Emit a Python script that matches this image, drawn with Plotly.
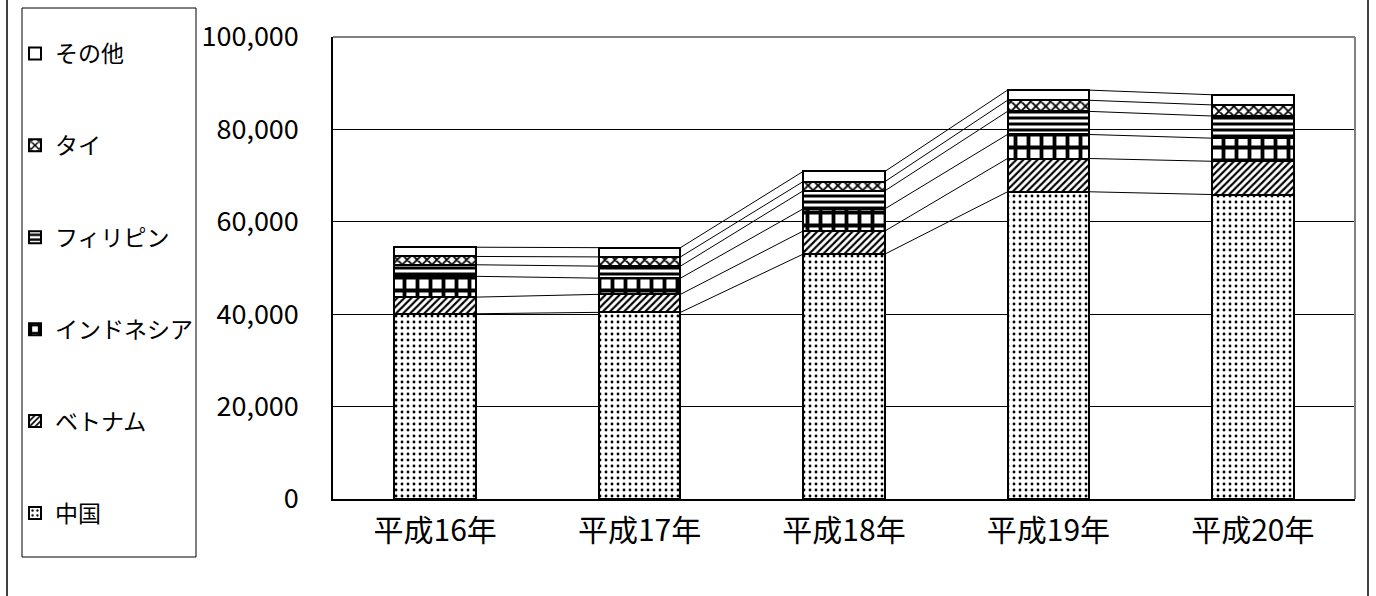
import plotly.graph_objects as go
import numpy as np

# 年度
years = ["平成16年", "平成17年", "平成18年", "平成19年", "平成20年"]

# 国籍別の人数（下から積み上げ）
china = [40100, 40400, 53000, 66500, 65900]
vietnam = [3600, 3900, 5000, 7200, 7200]
indonesia = [4500, 3500, 4800, 5200, 5000]
philippines = [2500, 2600, 3900, 5000, 4800]
thailand = [1800, 2000, 2000, 2400, 2400]
others = [2000, 2000, 2200, 2200, 2200]

series_names = ["中国", "ベトナム", "インドネシア", "フィリピン", "タイ", "その他"]
series_values = [china, vietnam, indonesia, philippines, thailand, others]

# y-axis ticks
y_ticks = [0, 20000, 40000, 60000, 80000, 100000]
y_tick_text = ["0", "20,000", "40,000", "60,000", "80,000", "100,000"]

FONT = "Noto Sans CJK JP"

patterns = [
    dict(shape=".", size=6, solidity=0.18, fgcolor="black", bgcolor="white"),
    dict(shape="/", size=5, solidity=0.42, fgcolor="black", bgcolor="white"),
    dict(shape="+", size=13, solidity=0.5, fgcolor="black", bgcolor="white"),
    dict(shape="-", size=6, solidity=0.5, fgcolor="black", bgcolor="white"),
    dict(shape="x", size=7, solidity=0.45, fgcolor="black", bgcolor="white"),
    dict(shape="", fgcolor="black", bgcolor="white"),
]

x = np.arange(len(years))
bar_w = 0.4
n = len(series_names)

fig = go.Figure()
for i, (name, vals) in enumerate(zip(series_names, series_values)):
    fig.add_trace(go.Bar(
        x=x, y=vals, name=name, width=bar_w,
        marker=dict(color="white", line=dict(color="black", width=2),
                    pattern=patterns[i]),
        legendgroup=name, legendrank=n - i,
    ))

# series lines joining the segment boundaries of neighbouring bars
cum = np.cumsum(np.array(series_values), axis=0)
for level in cum:
    for j in range(len(years) - 1):
        fig.add_trace(go.Scatter(
            x=[x[j] + bar_w / 2, x[j + 1] - bar_w / 2],
            y=[level[j], level[j + 1]],
            mode="lines", line=dict(color="black", width=1),
            showlegend=False, hoverinfo="skip",
        ))

L, R, T, B = 333, 21, 37, 97
W, H = 1376, 596
pw, ph = W - L - R, H - T - B


def px_x(p):
    return (p - L) / pw


def px_y(p):
    return (H - B - p) / ph


shapes = [
    # top and right edges of the plot area
    dict(type="line", xref="paper", yref="paper", x0=0, x1=1, y0=1, y1=1,
         line=dict(color="#808080", width=2), layer="above"),
    dict(type="line", xref="paper", yref="paper", x0=1, x1=1, y0=0, y1=1,
         line=dict(color="#808080", width=2), layer="above"),
    # legend frame
    dict(type="rect", xref="paper", yref="paper",
         x0=px_x(22), x1=px_x(196), y0=px_y(557), y1=px_y(8),
         line=dict(color="black", width=1)),
    # outer chart frame
    dict(type="line", xref="paper", yref="paper",
         x0=px_x(7), x1=px_x(7), y0=px_y(-5), y1=px_y(600),
         line=dict(color="black", width=1.5)),
    dict(type="line", xref="paper", yref="paper",
         x0=px_x(1368), x1=px_x(1368), y0=px_y(-5), y1=px_y(600),
         line=dict(color="black", width=1.5)),
]

fig.update_layout(
    template="none",
    width=W, height=H,
    margin=dict(l=L, r=R, t=T, b=B, autoexpand=False),
    barmode="stack",
    plot_bgcolor="white", paper_bgcolor="white",
    font=dict(family=FONT, color="black"),
    shapes=shapes,
    showlegend=True,
    legend=dict(
        xref="container", yref="container",
        x=15 / W, y=1 - 32 / H, xanchor="left", yanchor="top",
        traceorder="grouped", tracegroupgap=59, maxheight=590,
        font=dict(family=FONT, size=23, color="black"),
        bgcolor="rgba(0,0,0,0)", itemwidth=30, borderwidth=0,
    ),
    xaxis=dict(
        range=[-0.5, len(years) - 0.5],
        tickvals=list(x), ticktext=years,
        tickfont=dict(family=FONT, size=30),
        showgrid=False, showline=True, linecolor="black", linewidth=1.5,
        ticks="", ticklabelstandoff=4, zeroline=False, automargin=False,
    ),
    yaxis=dict(
        range=[0, 100000],
        tickvals=y_ticks, ticktext=y_tick_text,
        tickfont=dict(family=FONT, size=27),
        showgrid=True, gridcolor="black", gridwidth=1,
        showline=True, linecolor="black", linewidth=1.5,
        ticks="", ticklabelstandoff=27, zeroline=False, automargin=False,
    ),
)

fig.write_html("out.html")
